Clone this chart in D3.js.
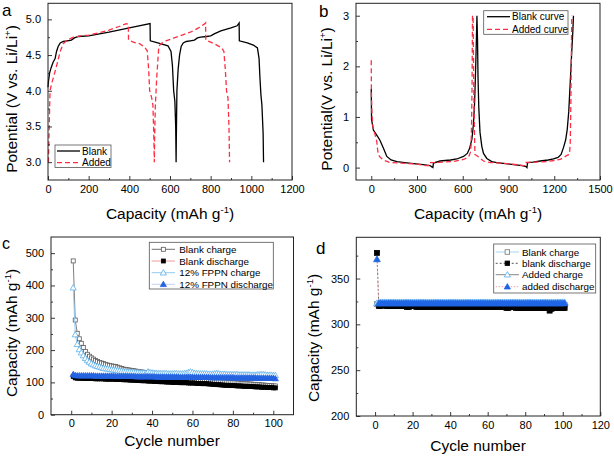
<!DOCTYPE html>
<html><head><meta charset="utf-8">
<script src="https://cdn.jsdelivr.net/npm/d3@7/dist/d3.min.js"></script>
<style>body{margin:0;background:#fff}svg{display:block}text{font-family:"Liberation Sans",Arial,sans-serif;fill:#000}</style>
</head><body><svg id="chart" width="614" height="457"></svg>
<script>
// ---------- DATA ----------
// Panel a: voltage profiles (capacity mAh/g, potential V)
const blankA = [[0,4.05],[3,4.15],[8,4.25],[15,4.32],[25,4.40],[35,4.45],[42,4.55],[50,4.62],[60,4.67],[75,4.69],[95,4.70],[115,4.71],[130,4.74],[150,4.76],[200,4.77],[300,4.82],[400,4.88],[502,4.94],[503,4.70],[540,4.67],[590,4.63],[605,4.55],[612,4.35],[618,4.0],[624,3.85],[628,3.5],[630,3.0],[631,3.3],[634,4.0],[640,4.3],[647,4.5],[655,4.62],[665,4.67],[680,4.69],[700,4.70],[720,4.71],[735,4.74],[750,4.75],[780,4.76],[800,4.77],[820,4.80],[850,4.84],[900,4.88],[930,4.91],[940,4.95],[941,4.70],[980,4.67],[1010,4.64],[1030,4.60],[1038,4.45],[1042,4.2],[1047,3.95],[1052,3.8],[1058,3.4],[1060,3.0]];
const addedA = [[2,3.0],[6,3.5],[10,4.0],[18,4.1],[30,4.22],[45,4.38],[60,4.55],[75,4.66],[95,4.71],[125,4.75],[160,4.77],[200,4.78],[250,4.81],[300,4.85],[350,4.90],[385,4.94],[395,4.93],[396,4.71],[420,4.68],[450,4.66],[475,4.61],[488,4.56],[495,4.3],[500,4.0],[510,3.9],[516,3.8],[520,3.4],[523,3.0],[524,3.3],[528,3.8],[535,4.2],[545,4.62],[555,4.66],[580,4.70],[620,4.74],[660,4.78],[700,4.82],[740,4.88],[772,4.94],[775,4.95],[776,4.71],[800,4.68],[830,4.64],[855,4.60],[865,4.55],[872,4.3],[878,4.0],[885,3.9],[890,3.5],[893,3.0]];
// Panel b
const blankB = [[0,1.55],[2,0.95],[14,0.74],[36,0.64],[57,0.54],[80,0.38],[102,0.22],[130,0.15],[168,0.12],[220,0.1],[277,0.08],[340,0.06],[385,0.04],[400,0.01],[404,0.0],[408,0.09],[451,0.13],[520,0.15],[561,0.17],[605,0.22],[630,0.28],[645,0.38],[660,0.56],[670,0.85],[678,1.3],[685,2.0],[690,2.6],[693,3.0],[697,2.5],[700,1.8],[705,1.2],[713,0.7],[725,0.42],[736,0.28],[758,0.18],[790,0.12],[824,0.1],[880,0.08],[933,0.06],[990,0.04],[1015,0.02],[1021,0.0],[1025,0.1],[1060,0.11],[1108,0.13],[1160,0.15],[1195,0.17],[1225,0.2],[1245,0.26],[1261,0.4],[1275,0.55],[1285,0.75],[1295,1.1],[1305,1.7],[1315,2.3],[1322,2.7],[1326,3.0]];
const addedB = [[0,2.12],[1,1.5],[4,1.1],[10,0.82],[25,0.65],[36,0.52],[42,0.35],[47,0.25],[60,0.2],[80,0.15],[123,0.1],[200,0.09],[300,0.07],[360,0.04],[375,0.04],[380,0.1],[420,0.1],[480,0.11],[540,0.12],[605,0.16],[638,0.21],[650,0.3],[655,0.45],[658,0.9],[661,1.6],[664,3.0],[668,3.0],[672,1.6],[676,0.8],[680,0.26],[705,0.21],[736,0.13],[780,0.1],[845,0.09],[920,0.07],[998,0.04],[1005,0.04],[1010,0.1],[1080,0.11],[1152,0.12],[1200,0.14],[1239,0.16],[1283,0.24],[1300,0.26],[1305,0.5],[1309,1.3],[1312,2.2],[1315,3.0]];
// Panel c: cycling (cycles 1..101)
const cyclesC = d3.range(1, 102);
const blankChargeC = [476,293,252,235,221,208,196,187,181,176,172,168,165,162,160,158,156,154,152,151,150,149,147,145,143,141,140,139,138,137,136,135,134,133,132,131,130,129,128,127,126,125,124,123,122,121,120,119,118,117,116,116,115,114,114,113,112,112,111,110,110,109,109,108,108,107,107,106,106,105,104,104,103,103,102,101,101,100,100,99,99,98,98,97,97,96,96,95,95,94,94,93,93,92,92,91,91,90,90,89,89];
const blankDisC = [118,114,113,113,113,112,112,112,112,112,112,111,111,111,111,111,110,110,110,110,110,109,109,109,109,108,108,108,107,107,107,106,106,106,105,105,105,104,104,104,103,103,103,102,102,102,101,101,101,100,100,100,100,99,99,99,99,98,98,98,98,97,97,97,96,96,96,95,95,94,94,93,93,92,92,91,91,91,90,90,90,89,89,89,88,88,88,87,87,87,86,86,86,85,85,85,84,84,84,83,83];
const fppnChargeC = [393,248,218,202,192,183,175,168,163,158,155,152,150,148,146,144,143,142,141,140,139,138,137,136,135,134,134,133,133,132,132,131,131,130,130,130,129,133,131,130,129,129,128,128,128,128,128,127,127,127,128,128,127,127,127,128,129,131,133,131,129,128,128,127,127,127,127,126,126,126,127,128,127,126,126,126,125,125,125,125,125,125,124,124,124,124,124,124,123,123,123,124,124,125,125,124,123,123,123,122,122];
const fppnDisC = [125,122,121,121,121,121,121,121,121,121,121,120,120,120,120,120,120,120,120,120,120,119,119,119,119,119,119,119,119,119,119,118,118,118,118,118,118,118,118,118,118,117,117,117,117,117,117,117,117,117,117,117,117,116,116,116,116,116,116,116,116,116,116,116,116,116,116,116,115,115,115,115,115,115,115,115,115,115,115,115,114,114,114,114,114,114,114,114,114,114,114,113,113,113,113,113,113,113,113,113,112];
// Panel d
const cyclesD = d3.range(1, 102);
const blankChargeD = [322,322,322,322,322,323,323,322,322,322,322,322,322,322,322,322,322,322,322,322,322,322,322,322,322,322,322,322,322,322,322,322,322,322,321,321,321,321,321,321,321,321,321,321,321,321,321,321,321,321,321,321,321,321,321,321,321,321,321,321,321,321,321,321,321,321,321,321,321,321,321,321,321,321,321,321,321,321,321,321,321,321,321,321,321,321,321,321,321,321,321,321,321,320,320,321,321,321,321,321,321];
const blankDisD = [378,320,320,321,321,320,320,320,320,320,320,320,320,320,320,320,319,319,320,320,320,319,319,319,319,319,319,319,319,319,319,319,319,319,319,319,319,319,319,319,319,319,319,319,319,319,319,319,319,319,319,319,319,319,319,319,319,319,319,319,319,319,319,319,319,319,319,319,319,318,318,319,319,319,318,318,318,318,318,318,318,318,318,318,318,318,318,318,318,318,318,318,315,317,318,318,318,318,318,318,318];
const addedChargeD = [323,324,324,324,324,324,324,324,324,324,324,324,324,324,324,324,324,324,324,324,324,324,324,324,324,324,324,324,324,324,324,324,324,324,324,324,324,324,324,324,324,324,324,324,324,324,324,324,324,324,324,324,324,324,324,324,324,324,324,324,324,324,324,324,324,324,324,324,324,324,324,324,324,324,324,324,324,324,324,324,324,324,324,324,324,324,324,324,324,324,324,324,324,324,324,324,324,324,324,324,324];
const addedDisD = [371,323,323,323,323,323,323,323,323,323,323,323,323,323,323,323,323,323,323,323,323,323,323,323,323,323,323,323,323,323,323,323,323,323,323,323,323,323,323,323,323,323,323,323,323,323,323,323,323,323,323,323,323,323,323,323,323,323,323,323,323,323,323,323,323,323,323,323,323,323,323,323,323,323,323,323,323,323,323,323,323,323,323,323,323,323,323,323,323,323,323,323,323,323,323,323,323,323,323,323,323];
// Tick values
const ticksAx = [0,200,400,600,800,1000,1200], minorAx = [100,300,500,700,900,1100];
const ticksAy = [3.0,3.5,4.0,4.5,5.0], minorAy = [3.25,3.75,4.25,4.75];
const ticksBx = [0,300,600,900,1200,1500], minorBx = [150,450,750,1050,1350];
const ticksBy = [0,1,2,3], minorBy = [0.5,1.5,2.5];
const ticksCx = [0,20,40,60,80,100], minorCx = [10,30,50,70,90];
const ticksCy = [0,100,200,300,400,500], minorCy = [50,150,250,350,450];
const ticksDx = [0,20,40,60,80,100,120], minorDx = [10,30,50,70,90,110];
const ticksDy = [200,250,300,350], minorDy = [225,275,325,375];

// ---------- DRAW ----------
const svg = d3.select("#chart");
const FS = 11;
function panel(o){
  const x = d3.scaleLinear().domain(o.xd).range([o.l, o.r]);
  const y = d3.scaleLinear().domain(o.yd).range([o.b, o.t]);
  const g = svg.append("g");
  const data = g.append("g");
  const ax = g.append("g");
  function style(sel){
    sel.select(".domain").remove();
    sel.selectAll("line").attr("stroke","#222").attr("stroke-width",0.9);
    sel.selectAll("text").attr("font-size",FS).attr("font-family","'Liberation Sans',Arial,sans-serif").attr("fill","#000");
  }
  ax.append("g").attr("transform",`translate(0,${o.b})`)
    .call(d3.axisBottom(x).tickValues(o.xt).tickSize(-4).tickPadding(5).tickFormat(o.xf)).call(style);
  ax.append("g").attr("transform",`translate(0,${o.b})`)
    .call(d3.axisBottom(x).tickValues(o.xm).tickSize(-2).tickFormat("")).call(style);
  ax.append("g").attr("transform",`translate(${o.l},0)`)
    .call(d3.axisLeft(y).tickValues(o.yt).tickSize(-4).tickPadding(7).tickFormat(o.yf)).call(style);
  ax.append("g").attr("transform",`translate(${o.l},0)`)
    .call(d3.axisLeft(y).tickValues(o.ym).tickSize(-2).tickFormat("")).call(style);
  ax.append("rect").attr("x",o.l).attr("y",o.t).attr("width",o.r-o.l).attr("height",o.b-o.t)
    .attr("fill","none").attr("stroke","#222").attr("stroke-width",1);
  return {x,y,data,g};
}
function title(txt, sup, x, y, rot){
  const t = svg.append("text").attr("font-size",15.5).attr("text-anchor","middle")
    .attr("transform",`translate(${x},${y})${rot?" rotate(-90)":""}`);
  t.append("tspan").text(txt);
  t.append("tspan").attr("font-size",9.5).attr("dy",-6.5).text(sup);
  if(txt.indexOf("(")>=0 && sup!=="") t.append("tspan").attr("dy",6.5).text(")");
  return t;
}
function letter(txt,x,y,serif){
  svg.append("text").attr("x",x).attr("y",y).attr("font-size",serif?17:16)
    .attr("font-family",serif?"'Liberation Serif','Times New Roman',serif":"'Liberation Sans',Arial,sans-serif")
    .text(txt);
}
const f1 = d3.format(".1f"), fd = d3.format("d");

// Panel a
const A = panel({l:48,r:292,t:3.3,b:180,xd:[0,1200],yd:[2.75,5.225],xt:ticksAx,xm:minorAx,yt:ticksAy,ym:minorAy,xf:fd,yf:f1});
const lineA = d3.line().x(d=>A.x(d[0])).y(d=>A.y(d[1]));
A.data.append("path").attr("d",lineA(blankA)).attr("fill","none").attr("stroke","#000").attr("stroke-width",1.3);
A.data.append("path").attr("d",lineA(addedA)).attr("fill","none").attr("stroke","#ff2d43").attr("stroke-width",1.3).attr("stroke-dasharray","5,3");
// Panel b
const B = panel({l:356,r:600,t:3.3,b:180,xd:[-100,1500],yd:[-0.245,3.245],xt:ticksBx,xm:minorBx,yt:ticksBy,ym:minorBy,xf:fd,yf:fd});
const lineB = d3.line().x(d=>B.x(d[0])).y(d=>B.y(d[1]));
B.data.append("path").attr("d",lineB(blankB)).attr("fill","none").attr("stroke","#000").attr("stroke-width",1.3);
B.data.append("path").attr("d",lineB(addedB)).attr("fill","none").attr("stroke","#ff2d43").attr("stroke-width",1.3).attr("stroke-dasharray","5,3");

// marker helpers
function marker(sel, shape, cx, cy, fill, stroke, sz){
  if(shape==="sq"){
    const h = sz/2;
    return sel.append("rect").attr("x",cx-h).attr("y",cy-h).attr("width",sz).attr("height",sz)
      .attr("fill",fill).attr("stroke",stroke).attr("stroke-width",0.8);
  }
  const a = sz*sz*0.55;
  return sel.append("path").attr("d",d3.symbol(d3.symbolTriangle, a)())
    .attr("transform",`translate(${cx},${cy+0.5})`)
    .attr("fill",fill).attr("stroke",stroke).attr("stroke-width",0.8);
}
function series(P, xs, ys, s, sz){
  const ln = d3.line().x((d,i)=>P.x(xs[i])).y(d=>P.y(d));
  P.data.append("path").attr("d",ln(ys)).attr("fill","none").attr("stroke",s.lc).attr("stroke-width",0.9).attr("stroke-dasharray",s.dash);
  const g = P.data.append("g");
  ys.forEach((v,i)=>marker(g, s.shape, P.x(xs[i]), P.y(v), s.fill, s.stroke, sz));
}
// Panel c
const C = panel({l:51,r:293.5,t:237,b:414.7,xd:[-10,110],yd:[0,550],xt:ticksCx,xm:minorCx,yt:ticksCy,ym:minorCy,xf:fd,yf:fd});
const stC = [
  {name:"Blank charge", ys:blankChargeC, lc:"#707070", dash:null, shape:"sq", fill:"#fff", stroke:"#5a5a5a"},
  {name:"Blank discharge", ys:blankDisC, lc:"#f09a9a", dash:null, shape:"sq", fill:"#000", stroke:"#000"},
  {name:"12% FPPN charge", ys:fppnChargeC, lc:"#8ecbf2", dash:null, shape:"tri", fill:"#fff", stroke:"#5aaeea"},
  {name:"12% FPPN discharge", ys:fppnDisC, lc:"#c8d0f0", dash:null, shape:"tri", fill:"#2563e0", stroke:"#2563e0"}
];
stC.forEach(s=>series(C, cyclesC, s.ys, s, s.shape==="sq"?4:5.5));
// Panel d
const D = panel({l:356.3,r:600.3,t:237.3,b:416,xd:[-10,120],yd:[200,395],xt:ticksDx,xm:minorDx,yt:ticksDy,ym:minorDy,xf:fd,yf:fd});
const stD = [
  {name:"Blank charge", ys:blankChargeD, lc:"#a6d8f2", dash:null, shape:"sq", fill:"#fff", stroke:"#777"},
  {name:"blank discharge", ys:blankDisD, lc:"#555", dash:"2,2", shape:"sq", fill:"#000", stroke:"#000"},
  {name:"Added charge", ys:addedChargeD, lc:"#888", dash:null, shape:"tri", fill:"#fff", stroke:"#56aef0"},
  {name:"added discharge", ys:addedDisD, lc:"#f2a0a6", dash:"1.5,1.5", shape:"tri", fill:"#1f66e6", stroke:"#1f66e6"}
];
stD.forEach(s=>series(D, cyclesD, s.ys, s, s.shape==="sq"?5:6));

// ---------- LEGENDS ----------
function legendBox(x0,y0,x1,y1){
  svg.append("rect").attr("x",x0).attr("y",y0).attr("width",x1-x0).attr("height",y1-y0)
    .attr("fill","#fff").attr("stroke","#555").attr("stroke-width",0.8);
}
legendBox(55,145,111,167.5);
[["Blank","#000",null,151],["Added","#ff2d43","5,3",162.7]].forEach(r=>{
  svg.append("line").attr("x1",57).attr("x2",80).attr("y1",r[3]).attr("y2",r[3]).attr("stroke",r[1]).attr("stroke-width",1.3).attr("stroke-dasharray",r[2]);
  svg.append("text").attr("x",82).attr("y",r[3]+3.6).attr("font-size",10).text(r[0]);
});
legendBox(483.7,10.7,568,34.3);
[["Blank curve","#000",null,16.7],["Added curve","#ff2d43","5,3",29.3]].forEach(r=>{
  svg.append("line").attr("x1",487).attr("x2",510).attr("y1",r[3]).attr("y2",r[3]).attr("stroke",r[1]).attr("stroke-width",1.3).attr("stroke-dasharray",r[2]);
  svg.append("text").attr("x",512).attr("y",r[3]+3.6).attr("font-size",10).text(r[0]);
});
function cycLegend(st, box, rows, lx0, lx1, tx, sq, tri){
  legendBox(box[0],box[1],box[2],box[3]);
  st.forEach((s,i)=>{
    const yy = rows[i];
    svg.append("line").attr("x1",lx0).attr("x2",lx1).attr("y1",yy).attr("y2",yy).attr("stroke",s.lc).attr("stroke-width",1).attr("stroke-dasharray",s.dash);
    marker(svg, s.shape, (lx0+lx1)/2, yy, s.fill, s.stroke, s.shape==="sq"?sq:tri);
    svg.append("text").attr("x",tx).attr("y",yy+3.5).attr("font-size",9.8).text(s.name);
  });
}
cycLegend(stC, [149.3,242.3,273.3,289], [249.3,261,272.7,284.3], 151.7, 175, 179.3, 4, 5.5);
cycLegend(stD, [493.7,244,595.7,293], [252,263.3,274.7,286.7], 495.7, 519, 522, 4.5, 5.5);

// ---------- TITLES ----------
title("Capacity (mAh g","-1",170,219,false);
title("Capacity (mAh g","-1",478,219,false);
title("Cycle number","",172,446,false);
title("Cycle number","",478,451,false);
title("Potential (V vs. Li/Li","+",17,99,true);
title("Potential(V vs. Li/Li","+",332,99,true);
title("Capacity (mAh g","-1",17,333,true);
title("Capacity (mAh g","-1",319,338,true);
letter("a",2,15.5,true);
letter("b",319,17,true);
letter("c",2,249,false);
letter("d",316,254,true);
</script></body></html>
